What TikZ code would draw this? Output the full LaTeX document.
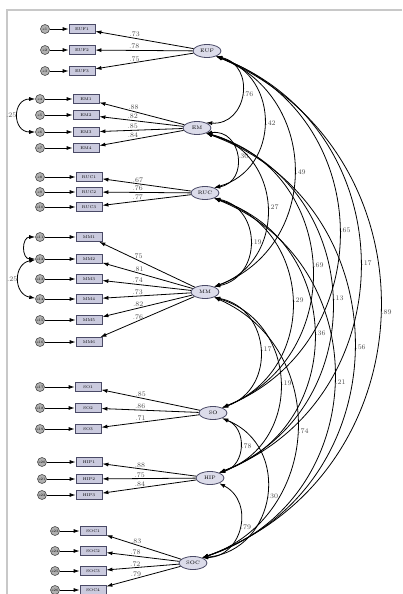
\documentclass[tikz,border=0pt]{standalone}
\usepackage{tikz}
\usetikzlibrary{arrows.meta,shapes.geometric,positioning}
\usepackage{xcolor}
\definecolor{boxfill}{HTML}{CACADE}
\definecolor{boxdraw}{HTML}{4A4A66}
\definecolor{latfill}{HTML}{DCDCEA}
\definecolor{errfill}{HTML}{B0B0B0}
\definecolor{framegray}{HTML}{C8C8C8}

\begin{document}
\begin{tikzpicture}[x=1pt, y=-1pt,
    ind/.style={draw=boxdraw, fill=boxfill, line width=0.8pt, minimum width=26pt,
      minimum height=9pt, inner sep=0pt, font=\fontsize{4}{4}\selectfont},
    lat/.style={ellipse, draw=boxdraw, fill=latfill, line width=0.8pt, minimum width=28pt,
      minimum height=13pt, inner sep=0pt, font=\fontsize{5}{5}\selectfont},
    err/.style={circle, draw=black!70, fill=errfill, line width=0.6pt, minimum size=9pt,
      inner sep=0pt, font=\fontsize{3.5}{3.5}\selectfont},
    arr/.style={-{Latex[length=6pt,width=4pt]}, line width=0.8pt},
    cov/.style={{Latex[length=6pt,width=4pt]}-{Latex[length=6pt,width=4pt]}, line width=0.8pt},
    ld/.style={font=\fontsize{7}{8}\selectfont, text=black!70, inner sep=1pt}]

\useasboundingbox (0,0) rectangle (402,594);

% Frame
\draw[framegray, line width=1.2pt] (402,10) -- (7,10) -- (7,594);

% Latent factors
\def\FX{{207,197,205,205,213,210,193}}
\def\FY{{51,128,193,292,413,478,563}}
\foreach \i/\nm in {1/EUF, 2/EM, 3/RUC, 4/MM, 5/SO, 6/HIP, 7/SOC}{
  \pgfmathsetmacro\xa{\FX[\i-1]}
  \pgfmathsetmacro\ya{\FY[\i-1]}
  \node[lat] (F\i) at (\xa,\ya) {\nm};
}

% Indicators with error terms and loadings
\foreach \k/\yy/\lab in {1/29/.73, 2/50/.78, 3/71/.75}{
  \node[ind] (a\k) at (82,\yy) {EUF\k};
  \node[err] (ea\k) at (45,\yy) {e\k};
  \draw[arr] (ea\k) -- (a\k);
  \draw[arr] (F1) -- node[ld, pos=0.6, above] {\lab} (a\k);
}
\foreach \k/\e/\yy/\lab in {1/4/99/.88, 2/5/115/.82, 3/6/132/.85, 4/7/148/.84}{
  \node[ind] (b\k) at (86,\yy) {EM\k};
  \node[err] (eb\k) at (40,\yy) {e\e};
  \draw[arr] (eb\k) -- (b\k);
  \draw[arr] (F2) -- node[ld, pos=0.6, above] {\lab} (b\k);
}
\foreach \k/\e/\yy/\lab in {1/8/177/.67, 2/9/192/.76, 3/10/207/.77}{
  \node[ind] (c\k) at (89,\yy) {RUC\k};
  \node[err] (ec\k) at (40,\yy) {e\e};
  \draw[arr] (ec\k) -- (c\k);
  \draw[arr] (F3) -- node[ld, pos=0.6, above] {\lab} (c\k);
}
\foreach \k/\e/\yy/\lab in {1/11/237/.75, 2/12/259/.81, 3/13/279/.74, 4/14/299/.73, 5/15/320/.82, 6/16/342/.76}{
  \node[ind] (d\k) at (89,\yy) {MM\k};
  \node[err] (ed\k) at (40,\yy) {e\e};
  \draw[arr] (ed\k) -- (d\k);
  \draw[arr] (F4) -- node[ld, pos=0.6, above] {\lab} (d\k);
}
\foreach \k/\e/\yy/\lab in {1/17/387/.85, 2/18/408/.86, 3/19/429/.71}{
  \node[ind] (s\k) at (88,\yy) {SO\k};
  \node[err] (es\k) at (40,\yy) {e\e};
  \draw[arr] (es\k) -- (s\k);
  \draw[arr] (F5) -- node[ld, pos=0.6, above] {\lab} (s\k);
}
\foreach \k/\e/\yy/\lab in {1/20/462/.88, 2/21/479/.75, 3/22/495/.84}{
  \node[ind] (h\k) at (89,\yy) {HIP\k};
  \node[err] (eh\k) at (42,\yy) {e\e};
  \draw[arr] (eh\k) -- (h\k);
  \draw[arr] (F6) -- node[ld, pos=0.6, above] {\lab} (h\k);
}
\foreach \k/\e/\yy/\lab in {1/23/531/.83, 2/24/551/.78, 3/25/571/.72, 4/26/590/.79}{
  \node[ind] (o\k) at (93,\yy) {SOC\k};
  \node[err] (eo\k) at (55,\yy) {e\e};
  \draw[arr] (eo\k) -- (o\k);
  \draw[arr] (F7) -- node[ld, pos=0.6, above] {\lab} (o\k);
}

% Correlated errors
\draw[cov] (eb1) to[out=180, in=180, looseness=1.8] node[ld, left] {.25} (eb3);
\draw[cov] (ed1) to[out=180, in=180, looseness=1.6] (ed2);
\draw[cov] (ed2) to[out=190, in=170, looseness=1.5] node[ld, left] {.25} (ed4);

% Factor covariances (circular arcs, \mx = rightmost x of the arc)
\foreach \i/\j/\mx/\lab in {1/2/242/.76, 1/3/264/.42, 1/4/294/.49, 1/5/339/.65, 1/6/360/.17, 1/7/380/.89,
    2/3/237/.30, 2/4/267/.27, 2/5/312/.69, 2/6/332/.13, 2/7/354/.56,
    3/4/250/.19, 3/5/292/.29, 3/6/314/.36, 3/7/334/.21,
    4/5/260/.17, 4/6/280/.19, 4/7/297/.74,
    5/6/240/.78, 5/7/267/.30, 6/7/240/.79}{
  \pgfmathsetmacro\sx{\FX[\i-1]+8.8}
  \pgfmathsetmacro\sy{\FY[\i-1]+5}
  \pgfmathsetmacro\ex{\FX[\j-1]+8.8}
  \pgfmathsetmacro\ey{\FY[\j-1]-5}
  \pgfmathsetmacro\dd{veclen(\ex-\sx,\ey-\sy)}
  \pgfmathsetmacro\ux{(\ex-\sx)/\dd}
  \pgfmathsetmacro\uy{(\ey-\sy)/\dd}
  \pgfmathsetmacro\bb{\mx-(\sx+\ex)/2}
  \pgfmathsetmacro\kk{4*\bb/3}
  \pgfmathsetmacro\hh{\dd/3-4*\bb*(\bb/\dd)/3}
  \pgfmathsetmacro\cax{\sx+\kk*\uy+\hh*\ux}
  \pgfmathsetmacro\cay{\sy-\kk*\ux+\hh*\uy}
  \pgfmathsetmacro\cbx{\ex+\kk*\uy-\hh*\ux}
  \pgfmathsetmacro\cby{\ey-\kk*\ux-\hh*\uy}
  \draw[cov] (F\i.-30) .. controls (\cax,\cay) and (\cbx,\cby) .. node[ld, midway, anchor=west] {\lab} (F\j.30);
}

\end{tikzpicture}
\end{document}
